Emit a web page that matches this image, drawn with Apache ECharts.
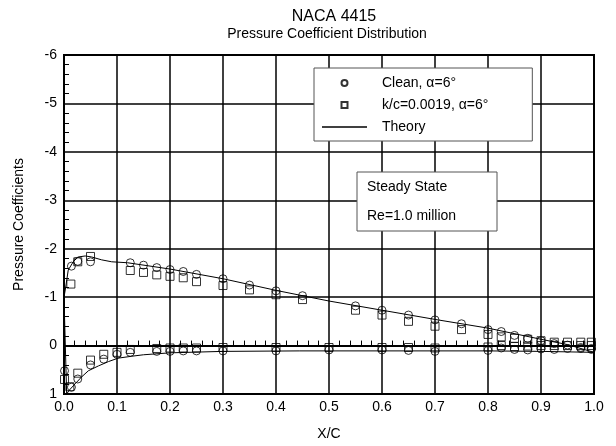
<!DOCTYPE html>
<html>
<head>
<meta charset="utf-8">
<script src="https://cdn.jsdelivr.net/npm/echarts@6/dist/echarts.min.js"></script>
<style>
  html, body { margin: 0; padding: 0; background: #fff; }
  #chart { width: 616px; height: 446px; }
</style>
</head>
<body>
<div id="chart"></div>
<script>
// upper surface, clean
const xUpClean = [0.014, 0.026, 0.05, 0.125, 0.15, 0.175, 0.2, 0.225, 0.25, 0.3, 0.35, 0.4, 0.45, 0.55, 0.6, 0.65, 0.7, 0.75, 0.8, 0.825, 0.85, 0.875, 0.9, 0.925, 0.95, 0.975, 0.995]
const cpUpClean = [-1.64, -1.74, -1.73, -1.71, -1.66, -1.61, -1.57, -1.53, -1.47, -1.38, -1.25, -1.13, -1.03, -0.82, -0.73, -0.63, -0.53, -0.45, -0.33, -0.29, -0.21, -0.15, -0.10, -0.04, -0.01, 0.04, 0.06]
// lower surface, clean
const xLoClean = [0.001, 0.014, 0.026, 0.05, 0.075, 0.1, 0.125, 0.175, 0.2, 0.225, 0.25, 0.3, 0.4, 0.5, 0.6, 0.65, 0.7, 0.8, 0.825, 0.85, 0.875, 0.9, 0.925, 0.95, 0.975, 0.995]
const cpLoClean = [0.52, 0.86, 0.69, 0.40, 0.28, 0.18, 0.14, 0.12, 0.12, 0.11, 0.11, 0.11, 0.11, 0.09, 0.09, 0.10, 0.12, 0.10, 0.05, 0.08, 0.09, 0.07, 0.08, 0.06, 0.06, 0.08]
// upper surface, k/c=0.0019
const xUpRough = [0.013, 0.026, 0.05, 0.125, 0.15, 0.175, 0.2, 0.225, 0.25, 0.3, 0.35, 0.4, 0.45, 0.55, 0.6, 0.65, 0.7, 0.75, 0.8, 0.825, 0.85, 0.875, 0.9, 0.925, 0.95, 0.975, 0.995]
const cpUpRough = [-1.27, -1.73, -1.84, -1.55, -1.51, -1.46, -1.43, -1.40, -1.32, -1.24, -1.15, -1.05, -0.95, -0.73, -0.63, -0.50, -0.40, -0.33, -0.23, -0.18, -0.15, -0.13, -0.10, -0.07, -0.07, -0.07, -0.07]
// lower surface, k/c=0.0019
const xLoRough = [0.001, 0.011, 0.026, 0.05, 0.075, 0.1, 0.125, 0.175, 0.2, 0.225, 0.25, 0.3, 0.4, 0.5, 0.6, 0.65, 0.7, 0.8, 0.825, 0.85, 0.875, 0.9, 0.925, 0.95, 0.975, 0.995]
const cpLoRough = [0.70, 0.85, 0.57, 0.30, 0.18, 0.14, 0.08, 0.06, 0.05, 0.05, 0.05, 0.04, 0.04, 0.04, 0.04, 0.04, 0.05, 0.03, 0.00, 0.02, 0.01, 0.00, 0.00, 0.00, 0.00, 0.00]
// theory, from upper trailing edge round the nose to lower trailing edge
const xTheory = [1.0, 0.95, 0.9, 0.8, 0.7, 0.6, 0.5, 0.4, 0.3, 0.2, 0.12, 0.09, 0.071, 0.052, 0.04, 0.027, 0.018, 0.008, 0.003, 0.0,
  0.005, 0.01, 0.021, 0.033, 0.046, 0.065, 0.084, 0.102, 0.128, 0.15, 0.2, 0.3, 0.445, 0.6, 0.8, 0.9, 1.0]
const cpTheory = [0.14, -0.02, -0.13, -0.36, -0.54, -0.73, -0.92, -1.14, -1.38, -1.58, -1.71, -1.73, -1.77, -1.83, -1.85, -1.83, -1.74, -1.56, -1.19, -1.0,
  1.0, 0.92, 0.79, 0.65, 0.52, 0.42, 0.33, 0.26, 0.22, 0.19, 0.15, 0.12, 0.11, 0.11, 0.11, 0.12, 0.14]

const names = ['Clean, α=6°', 'k/c=0.0019, α=6°', 'Theory']
const font = 'Liberation Sans, Arial, sans-serif'

const pairs = (xs, ys) => xs.map((x, i) => [x, ys[i]])
const hollow = {color: 'rgba(0,0,0,0)', borderColor: '#000', borderWidth: 1}

const chart = echarts.init(document.getElementById('chart'))
chart.setOption({
  animation: false,
  textStyle: {fontFamily: font},
  title: [
    {text: 'NACA 4415', left: 329, textAlign: 'center', top: 4, textStyle: {fontSize: 16, fontWeight: 'normal', color: '#000'}},
    {text: 'Pressure Coefficient Distribution', left: 322, textAlign: 'center', top: 22, textStyle: {fontSize: 14, fontWeight: 'normal', color: '#000'}}
  ],
  grid: {left: 64, right: 22, top: 55, bottom: 48, show: true, borderColor: '#000', borderWidth: 2},
  legend: {
    data: [
      {name: names[0], icon: 'circle'},
      {name: names[1], icon: 'path://M0,0H10V10H0Z'},
      {name: names[2], icon: 'path://M0,0H30V1H0Z'}
    ],
    orient: 'vertical',
    left: 314,
    top: 68,
    padding: [8, 44, 7, 8],
    itemWidth: 45,
    itemHeight: 6,
    itemGap: 8,
    selectedMode: false,
    backgroundColor: '#fff',
    borderColor: '#555',
    borderWidth: 1,
    textStyle: {fontSize: 14, color: '#000', padding: [0, 0, 0, 10]}
  },
  xAxis: {
    type: 'value',
    min: 0,
    max: 1,
    interval: 0.1,
    name: 'X/C',
    nameLocation: 'middle',
    nameGap: 33,
    nameTextStyle: {fontSize: 14, color: '#000'},
    axisLine: {lineStyle: {color: '#000', width: 2}},
    axisTick: {show: false, inside: true},
    minorTick: {show: true, splitNumber: 5, length: 5, lineStyle: {color: '#000'}},
    axisLabel: {fontSize: 14, color: '#000', margin: 6, formatter: v => v.toFixed(1)},
    splitLine: {lineStyle: {color: '#000', width: 1.5}}
  },
  yAxis: {
    type: 'value',
    inverse: true,
    min: -6,
    max: 1,
    interval: 1,
    name: 'Pressure Coefficients',
    nameLocation: 'middle',
    nameGap: 38,
    nameTextStyle: {fontSize: 14, color: '#000'},
    axisLine: {lineStyle: {color: '#000', width: 2}},
    axisTick: {show: false, inside: true},
    minorTick: {show: true, splitNumber: 5, length: 5, lineStyle: {color: '#000'}},
    axisLabel: {fontSize: 14, color: '#000', margin: 7},
    splitLine: {lineStyle: {color: '#000', width: 1.5}}
  },
  graphic: [
    {type: 'rect', shape: {x: 357, y: 172, width: 140, height: 59}, style: {fill: '#fff', stroke: '#555', lineWidth: 1}, z: 10},
    {type: 'text', x: 367, y: 187, style: {text: 'Steady State', font: '14px ' + font, fill: '#000', verticalAlign: 'middle'}, z: 11},
    {type: 'text', x: 367, y: 216, style: {text: 'Re=1.0 million', font: '14px ' + font, fill: '#000', verticalAlign: 'middle'}, z: 11}
  ],
  series: [
    {name: names[0], type: 'scatter', symbol: 'circle', symbolSize: 8, itemStyle: hollow, data: pairs(xUpClean, cpUpClean)},
    {name: names[0], type: 'scatter', symbol: 'circle', symbolSize: 8, itemStyle: hollow, data: pairs(xLoClean, cpLoClean)},
    {name: names[1], type: 'scatter', symbol: 'rect', symbolSize: 8, itemStyle: hollow, data: pairs(xUpRough, cpUpRough)},
    {name: names[1], type: 'scatter', symbol: 'rect', symbolSize: 8, itemStyle: hollow, data: pairs(xLoRough, cpLoRough)},
    {name: names[2], type: 'line', symbol: 'none', lineStyle: {color: '#000', width: 1}, itemStyle: {color: '#000'}, data: pairs(xTheory, cpTheory)}
  ]
})
</script>
</body>
</html>
